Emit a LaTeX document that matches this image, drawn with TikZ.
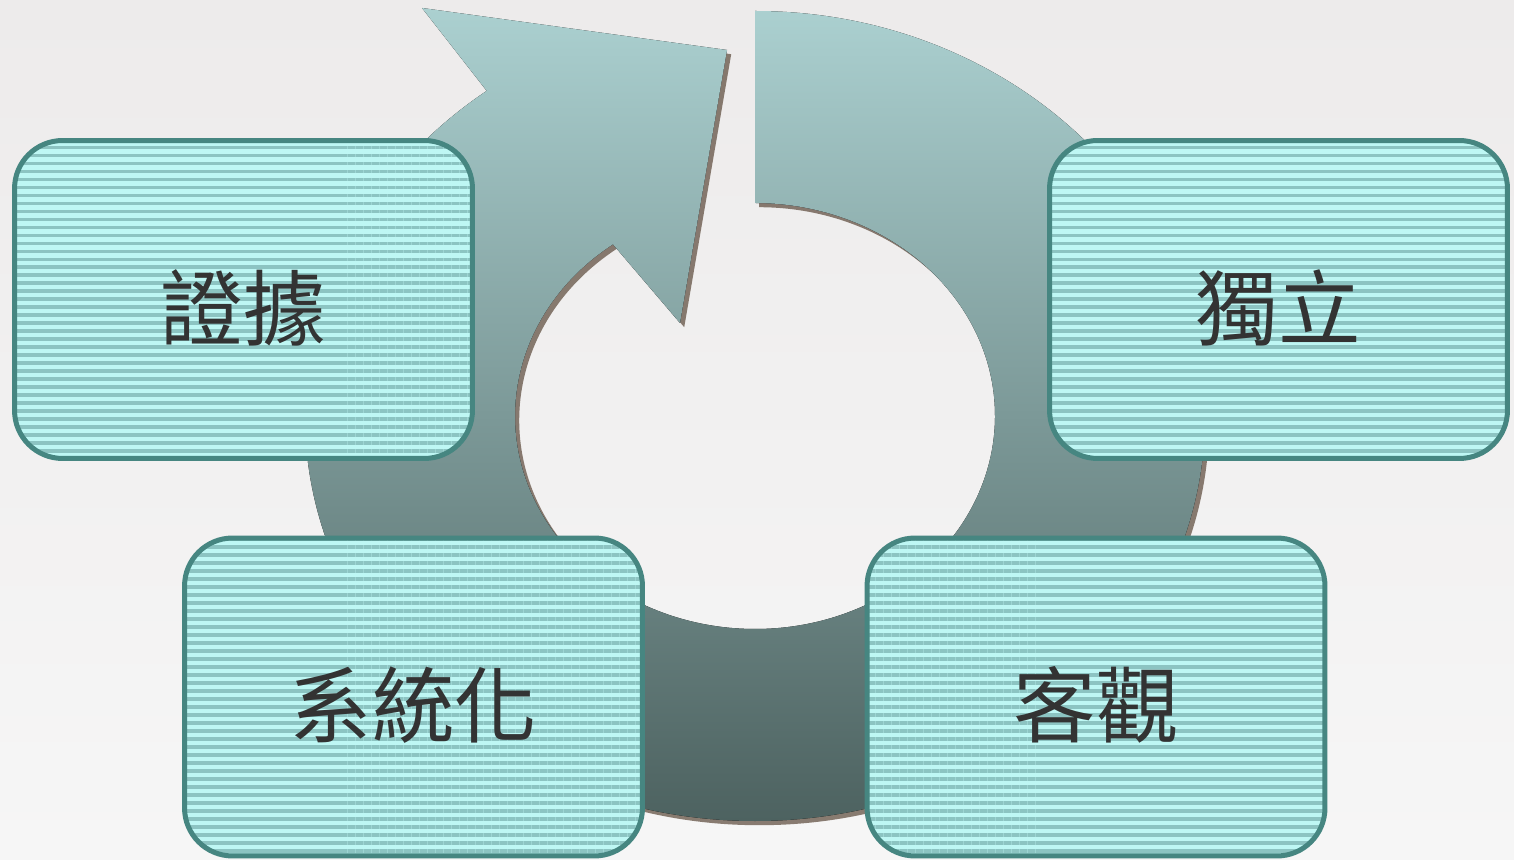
\documentclass[tikz,border=0pt]{standalone}
\usepackage{fontspec}
\newfontfamily\cjkfont{Noto Sans CJK TC}
\usepackage{tikz}
\usetikzlibrary{calc,shadows,patterns.meta}

\definecolor{PageTop}{HTML}{EDEBEB}
\definecolor{PageBottom}{HTML}{F6F6F6}
\definecolor{RingTop}{HTML}{ABD0D0}
\definecolor{RingMid}{HTML}{96B3B1}
\definecolor{RingBottom}{HTML}{4D6260}
\definecolor{ShadowBrown}{HTML}{4E3A2A}
\definecolor{BoxLine}{HTML}{468681}
\definecolor{StripeLight}{HTML}{BEF7F4}
\definecolor{StripeDark}{HTML}{8CC4C2}
\definecolor{TextGray}{HTML}{333333}

\tikzset{
	ring/.style={top color=RingTop, middle color=RingMid, bottom color=RingBottom,
		drop shadow={shadow xshift=2.4pt, shadow yshift=-2.4pt, fill=ShadowBrown, opacity=0.65}},
	phase/.style={draw=BoxLine, line width=2.85pt, rounded corners=0.96cm,
		minimum width=9.16cm, minimum height=6.36cm, inner sep=0pt,
		preaction={fill=StripeLight},
		pattern={Lines[angle=0, distance=4.55pt, line width=2.2pt]}, pattern color=StripeDark,
		font=\cjkfont\fontsize{47pt}{52pt}\selectfont, text=TextGray,
		text height=51pt, text depth=6pt},
}

\begin{document}
\begin{tikzpicture}[x=0.02cm, y=0.02cm]
	
	% ------------------------------------------------
	% Page size and background
	\useasboundingbox (0,0) rectangle (1514,859);
	\fill[top color=PageTop, bottom color=PageBottom] (0,0) rectangle (1514,859);
	
	% ------------------------------------------------
	% Relevant coordinates
	\coordinate (RingCentre) at (755,443);
	\coordinate (Barb)       at (422,851);
	\coordinate (TipUpper)   at (727,809);
	\coordinate (TipLower)   at (680,536);
	
	% ----------------
	% Circular arrow
	\fill[ring] ($(RingCentre)+(90:450 and 405)$)
		arc [start angle=90, end angle=-233.4, x radius=450, y radius=405]
		-- (Barb) -- (TipUpper) -- (TipLower)
		-- ($(RingCentre)+(126.3:240 and 213)$)
		arc [start angle=126.3, end angle=450, x radius=240, y radius=213]
		-- cycle;
	
	% ----------------
	% Boxes
	\node[phase] (Evidence)     at (243.5,559.5) {證據};
	\node[phase] (Independence) at (1278.5,559.5) {獨立};
	\node[phase] (Systematic)   at (413.5,162)   {系統化};
	\node[phase] (Objective)    at (1096,162)    {客觀};
	
\end{tikzpicture}
\end{document}
